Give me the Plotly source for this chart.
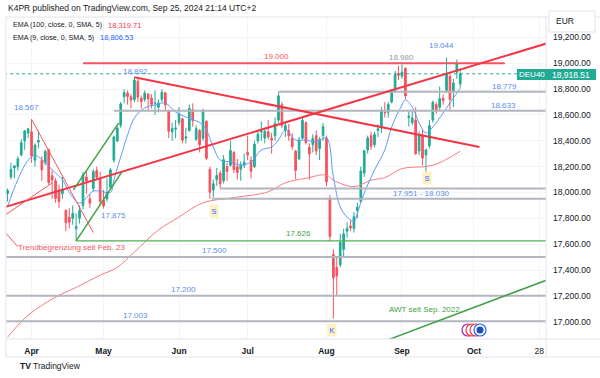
import plotly.graph_objects as go

# ---------------- data (DAX daily, trading-day index 0 = 2024-03-20) ----------------
opens = [17990, 18120, 18190, 18200, 18290, 18400, 18460,
         18470, 18250, 18390, 18250, 18230, 18330, 18130, 18090, 18010, 17990, 17860, 17810, 17800, 17720,
         17800, 17900, 18120, 17950, 18030, 18170, 18110,
         17940, 17950, 18040, 18250, 18400, 18520, 18740, 18770, 18740, 18720, 18860, 18730, 18720, 18760,
         18730, 18690, 18660, 18720, 18770, 18630, 18470, 18490,
         18540, 18570, 18420, 18480, 18640, 18410, 18480, 18420, 18550, 18180, 18020, 18100, 18150, 18090,
         18200, 18210, 18310, 18200, 18180, 18210,
         18310, 18250, 18200, 18400, 18470, 18420, 18470, 18420, 18440, 18560, 18680, 18480, 18480, 18420,
         18320, 18260, 18420, 18540, 18350, 18370, 18440, 18340, 18440,
         18420, 17950, 17520, 17420, 17440, 17560, 17700, 17740, 17720, 17860, 17930, 18150, 18330, 18440,
         18370, 18480, 18500, 18620, 18620, 18700, 18790, 18920,
         18900, 18960, 18580, 18540, 18560, 18320, 18440, 18290, 18360, 18560, 18680, 18660, 18730, 18790,
         18900, 18780, 18930, 18840]
highs = [18030, 18230, 18210, 18280, 18410, 18480, 18500,
         18567, 18380, 18480, 18280, 18330, 18340, 18170, 18110, 18060, 18130, 17870, 17880, 17900, 17840,
         17900, 18160, 18170, 17990, 18180, 18200, 18160,
         18020, 18110, 18190, 18440, 18510, 18700, 18800, 18790, 18760, 18892, 18880, 18750, 18790, 18770,
         18760, 18790, 18720, 18800, 18780, 18640, 18540, 18560,
         18660, 18580, 18500, 18680, 18690, 18520, 18490, 18650, 18560, 18200, 18100, 18190, 18170, 18290,
         18230, 18400, 18320, 18260, 18240, 18300,
         18440, 18280, 18400, 18480, 18550, 18500, 18560, 18460, 18580, 18779, 18700, 18550, 18530, 18460,
         18330, 18430, 18590, 18550, 18380, 18450, 18480, 18430, 18540,
         18440, 17980, 17560, 17500, 17680, 17720, 17770, 17790, 17850, 17920, 18200, 18330, 18440, 18470,
         18470, 18530, 18660, 18700, 18700, 18800, 18940, 18980,
         18990, 18970, 18640, 18640, 18660, 18470, 18490, 18340, 18560, 18710, 18700, 18820, 18760, 19044,
         18910, 18880, 19030, 18960]
lows = [17930, 18100, 18110, 18170, 18280, 18330, 18420,
        18230, 18200, 18340, 18090, 18210, 18060, 17950, 17920, 17880, 17950, 17700, 17720, 17750, 17626,
        17760, 17870, 17990, 17880, 18010, 18100, 17900,
        17875, 17930, 18020, 18230, 18390, 18500, 18690, 18680, 18650, 18700, 18700, 18650, 18700, 18640,
        18650, 18600, 18620, 18700, 18640, 18420, 18400, 18420,
        18520, 18380, 18380, 18470, 18510, 18400, 18310, 18400, 18250, 17951, 17960, 18050, 18030, 18070,
        18090, 18200, 18150, 18100, 18090, 18190,
        18250, 18110, 18190, 18380, 18400, 18380, 18410, 18300, 18400, 18540, 18500, 18430, 18400, 18330,
        18100, 18250, 18410, 18370, 18100, 18310, 18290, 18250, 18400,
        18050, 17620, 17024, 17200, 17420, 17500, 17650, 17700, 17690, 17800, 17920, 18120, 18300, 18330,
        18350, 18430, 18460, 18580, 18580, 18690, 18770, 18870,
        18880, 18720, 18510, 18520, 18290, 18290, 18210, 18140, 18340, 18540, 18610, 18640, 18680, 18770,
        18640, 18660, 18880, 18810]
closes = [18015, 18180, 18206, 18261, 18384, 18477, 18492,
          18283, 18367, 18403, 18175, 18318, 18077, 18097, 17954, 17930, 18026, 17766, 17770, 17837, 17737,
          17860, 18137, 18088, 17917, 18161, 18118, 17932,
          17896, 18001, 18175, 18430, 18498, 18686, 18773, 18742, 18716, 18869, 18738, 18704, 18768, 18726,
          18680, 18691, 18693, 18775, 18677, 18473, 18496, 18498,
          18608, 18405, 18431, 18652, 18557, 18494, 18369, 18630, 18265, 18002, 18068, 18131, 18067, 18254,
          18163, 18325, 18177, 18155, 18211, 18235,
          18290, 18164, 18374, 18450, 18475, 18472, 18430, 18407, 18534, 18748, 18518, 18518, 18437, 18354,
          18171, 18407, 18558, 18387, 18298, 18418, 18320, 18411, 18509,
          18083, 17661, 17339, 17354, 17615, 17680, 17723, 17726, 17812, 17885, 18166, 18322, 18421, 18357,
          18449, 18493, 18633, 18617, 18681, 18782, 18912, 18906,
          18930, 18747, 18591, 18576, 18301, 18443, 18266, 18330, 18518, 18699, 18633, 18726, 18711, 18920,
          18720, 18847, 18997, 18918.51]
bars = list(range(len(closes)))

month_tick_index = [7, 28, 50, 70, 93, 115, 136, 155]
month_tick_label = ["Apr", "May", "Jun", "Jul", "Aug", "Sep", "Oct", "28"]
price_ticks = [17000, 17200, 17400, 17600, 17800, 18000, 18200, 18400, 18600, 18800, 19000, 19200]

# indicator lines
ema9_index = [0, 3, 6, 8, 9, 11, 14, 16, 18, 21, 25, 27, 30, 31, 33, 35, 37, 40, 43, 46, 49, 52, 57,
              60, 62, 65, 68, 71, 74, 77, 79, 81, 84, 87, 90, 93, 95, 97, 99, 101, 102, 104, 107, 110,
              112, 115, 116, 118, 120, 122, 124, 127, 129, 132]
ema9_value = [17890, 18100, 18250, 18290, 18275, 18230, 18150, 18100, 18000, 17918, 18010, 18010, 18000,
              18097, 18275, 18445, 18577, 18654, 18677, 18692, 18623, 18584, 18522, 18352, 18251, 18236,
              18213, 18236, 18329, 18352, 18406, 18484, 18406, 18406, 18390, 18422, 18120, 17888, 17810,
              17775, 17841, 17996, 18174, 18329, 18507, 18677, 18716, 18662, 18538, 18460, 18507, 18615,
              18693, 18806.53]
ema100_index = [0, 6, 14, 20, 27, 32, 37, 44, 50, 57, 66, 76, 81, 87, 93, 95, 101, 106, 110, 115, 124, 132]
ema100_value = [16880, 17050, 17190, 17265, 17360, 17420, 17540, 17710, 17810, 17920, 17960, 18005,
                18075, 18110, 18135, 18095, 18045, 18095, 18115, 18185, 18210, 18319.71]

# horizontal levels (value, first bar)
gray_level_value = [18779, 18633, 18030, 17951, 17500, 17200, 17003]
gray_level_start = [79, 31, 62, 59.5, -1, -1, -1]
resistance_level = 19000
support_level = 17626
last_price = 18918.51

# trend lines: (bar, price) endpoints
uptrend_red = [(-1, 17885), (158, 19160)]
downtrend_red = [(37, 18892), (137.6, 18352)]
thin_red_a = [(7, 18567), (25, 17690)]
thin_red_b = [(-1, 17820), (13, 18074)]
thin_red_c = [(-1, 17700), (3, 17580)]
green_channel_a = [(20, 17626), (33.3, 18157)]
green_channel_b = [(19.2, 18020), (32.4, 18537)]
awt_line = [(111, 16860), (158, 17330)]

# ---------------- figure ----------------
W, H = 600, 378
def PX(x): return x / W
def PY(y): return 1 - y / H

FONT = "Liberation Sans, Arial, sans-serif"
UP, DOWN = "#22ab94", "#f7525f"
RED = "#f23645"
GRAY = "#b2b5be"
BLUE_TXT = "#5b8def"
GREEN = "#4caf50"

fig = go.Figure()

fig.add_trace(go.Candlestick(
    x=bars, open=opens, high=highs, low=lows, close=closes,
    increasing=dict(line=dict(color=UP, width=1), fillcolor=UP),
    decreasing=dict(line=dict(color=DOWN, width=1), fillcolor=DOWN),
    whiskerwidth=0, showlegend=False, hoverinfo="skip"))

fig.add_trace(go.Scatter(x=ema100_index, y=ema100_value, mode="lines", line=dict(color="#f77c80", width=1, shape="spline"),
                         showlegend=False, hoverinfo="skip"))
fig.add_trace(go.Scatter(x=ema9_index, y=ema9_value, mode="lines", line=dict(color="#5b9cf6", width=1, shape="spline"),
                         showlegend=False, hoverinfo="skip"))

def seg(points, color, width, dash="solid"):
    fig.add_trace(go.Scatter(x=[p[0] for p in points], y=[p[1] for p in points], mode="lines",
                             line=dict(color=color, width=width, dash=dash),
                             showlegend=False, hoverinfo="skip"))

XMAX = 160
for v, s in zip(gray_level_value, gray_level_start):
    seg([(s, v), (XMAX, v)], GRAY, 2)
seg([(-1, last_price), (XMAX, last_price)], "#22ab94", 1, "dot")
seg([(20, support_level), (XMAX, support_level)], GREEN, 1.2)
seg([(22, resistance_level), (145, resistance_level)], "#f7525f", 2)
seg(uptrend_red, RED, 2)
seg(downtrend_red, RED, 2)
seg(thin_red_a, "#f7525f", 1)
seg(thin_red_b, "#f7525f", 1)
seg(thin_red_c, "#f7525f", 1)
seg(green_channel_a, "#43a047", 1.5)
seg(green_channel_b, "#43a047", 1.5)
seg(awt_line, "#43a047", 1.5)

ann = []
def label(x, y, text, color, size=8, yshift=0, xanchor="center", **kw):
    ann.append(dict(x=x, y=y, xref="x", yref="y", text=text, showarrow=False, yshift=yshift,
                    xanchor=xanchor, yanchor="middle", font=dict(family=FONT, size=size, color=color), **kw))

label(5.5, 18654, "18.567", BLUE_TXT)
label(37.3, resistance_level, "18.892", BLUE_TXT, yshift=-8)
label(78.4, resistance_level, "19.000", "#f7525f", yshift=7)
label(114.9, resistance_level, "18.980", "#9598a1", yshift=6)
label(126.5, 19134, "19.044", BLUE_TXT)
label(144.9, gray_level_value[0], "18.779", BLUE_TXT, yshift=5)
label(144.6, gray_level_value[1], "18.633", BLUE_TXT, yshift=5)
label(120.7, 17990, "17.951 - 18.030", BLUE_TXT)
label(30.9, 17818, "17.875", BLUE_TXT)
label(84.8, support_level, "17.626", "#43a047", yshift=7)
label(60.3, gray_level_value[4], "17.500", BLUE_TXT, yshift=7)
label(51.3, gray_level_value[5], "17.200", BLUE_TXT, yshift=6)
label(37.3, gray_level_value[6], "17.003", BLUE_TXT, yshift=6)
label(121.6, 17092, "AWT seit Sep. 2022", "#43a047")
label(18.7, 17578, "Trendbegrenzung seit Feb. 23", "#f7525f")
for bx, by, t in [(60.3, 17857, "S"), (122.4, 18113, "S"), (94.5, 16936, "K")]:
    label(bx, by, t, "#2962ff", size=7.5, bgcolor="#fdf1c4", borderpad=1.5)

# header / legend
def ptext(x, y, text, color="#131722", size=8, xanchor="left", **kw):
    ann.append(dict(x=PX(x), y=PY(y), xref="paper", yref="paper", text=text, showarrow=False,
                    xanchor=xanchor, yanchor="middle", font=dict(family=FONT, size=size, color=color), **kw))

ptext(6, 8, "K4PR published on TradingView.com, Sep 25, 2024 21:14 UTC+2", size=8.5)
ptext(11, 25, "EMA (100, close, 0, SMA, 5)", size=7.1)
ptext(106, 25, f"{ema100_value[-1]:,.2f}", color=RED, size=7.5)
ptext(11, 38, "EMA (9, close, 0, SMA, 5)", size=7.1)
ptext(98, 38, f"{ema9_value[-1]:,.2f}", color="#2962ff", size=7.5)
ptext(18, 366, "<b>TV</b> TradingView", size=8.5)

# price label boxes
shapes = []
def prect(x0, y0, x1, y1, fill, line="rgba(0,0,0,0)", lw=0):
    shapes.append(dict(type="rect", xref="paper", yref="paper", x0=PX(x0), x1=PX(x1), y0=PY(y1), y1=PY(y0),
                       fillcolor=fill, line=dict(color=line, width=lw), layer="above"))

def pline(x0, y0, x1, y1, color="#e0e3eb"):
    shapes.append(dict(type="line", xref="paper", yref="paper", x0=PX(x0), x1=PX(x1), y0=PY(y0), y1=PY(y1),
                       line=dict(color=color, width=1), layer="above"))

pline(6, 17, 600, 17)
pline(6, 339, 600, 339)
pline(6, 357, 600, 357)
pline(6, 17, 6, 357)
pline(546, 17, 546, 357)

prect(549, 11, 595, 32, "white", "#e0e3eb", 1)
ptext(554, 21.5, "EUR", size=8.5)
prect(517, 69, 546, 80, "#22ab94")
ptext(531.5, 74.5, "DEU40", color="white", size=8, xanchor="center")
prect(546, 69, 596, 80, "#22ab94")
ptext(571, 74.5, f"{last_price:,.2f}", color="white", size=8.5, xanchor="center")

# event icons
for cx, col in [(468, "#9c27b0"), (472, "#f23645"), (476, "#f23645"), (480, "#2962ff")]:
    shapes.append(dict(type="circle", xref="paper", yref="paper", x0=PX(cx - 6), x1=PX(cx + 6),
                       y0=PY(336), y1=PY(324), fillcolor="white", line=dict(color=col, width=1.2), layer="above"))
shapes.append(dict(type="circle", xref="paper", yref="paper", x0=PX(476.5), x1=PX(483.5),
                   y0=PY(333.5), y1=PY(326.5), fillcolor="#1e50b4", line=dict(width=0), layer="above"))

fig.update_layout(
    width=W, height=H, margin=dict(l=0, r=0, t=0, b=0),
    paper_bgcolor="white", plot_bgcolor="white",
    annotations=ann, shapes=shapes,
    xaxis=dict(domain=[PX(6), PX(546)], range=[-0.45, 157.0], rangeslider=dict(visible=False),
               tickvals=month_tick_index,
               ticktext=[f"<b>{t}</b>" if t.isalpha() else t for t in month_tick_label],
               tickfont=dict(family=FONT, size=8.5, color="#131722"), ticks="", showgrid=True,
               gridcolor="#f2f4f8", gridwidth=1, zeroline=False, showline=False, automargin=False,
               ticklabelstandoff=5, fixedrange=True),
    yaxis=dict(domain=[PY(339), PY(17)], range=[16866, 19358], side="right",
               tickvals=price_ticks, ticktext=[f"{v:,.2f}" for v in price_ticks],
               tickfont=dict(family=FONT, size=8.5, color="#131722"), ticks="", showgrid=True,
               gridcolor="#f2f4f8", gridwidth=1, zeroline=False, showline=False, automargin=False,
               ticklabelstandoff=6, fixedrange=True),
)

fig.write_html("out.html", config={"displayModeBar": False},
               post_script="document.body.style.margin='0';document.body.style.overflow='hidden';")
